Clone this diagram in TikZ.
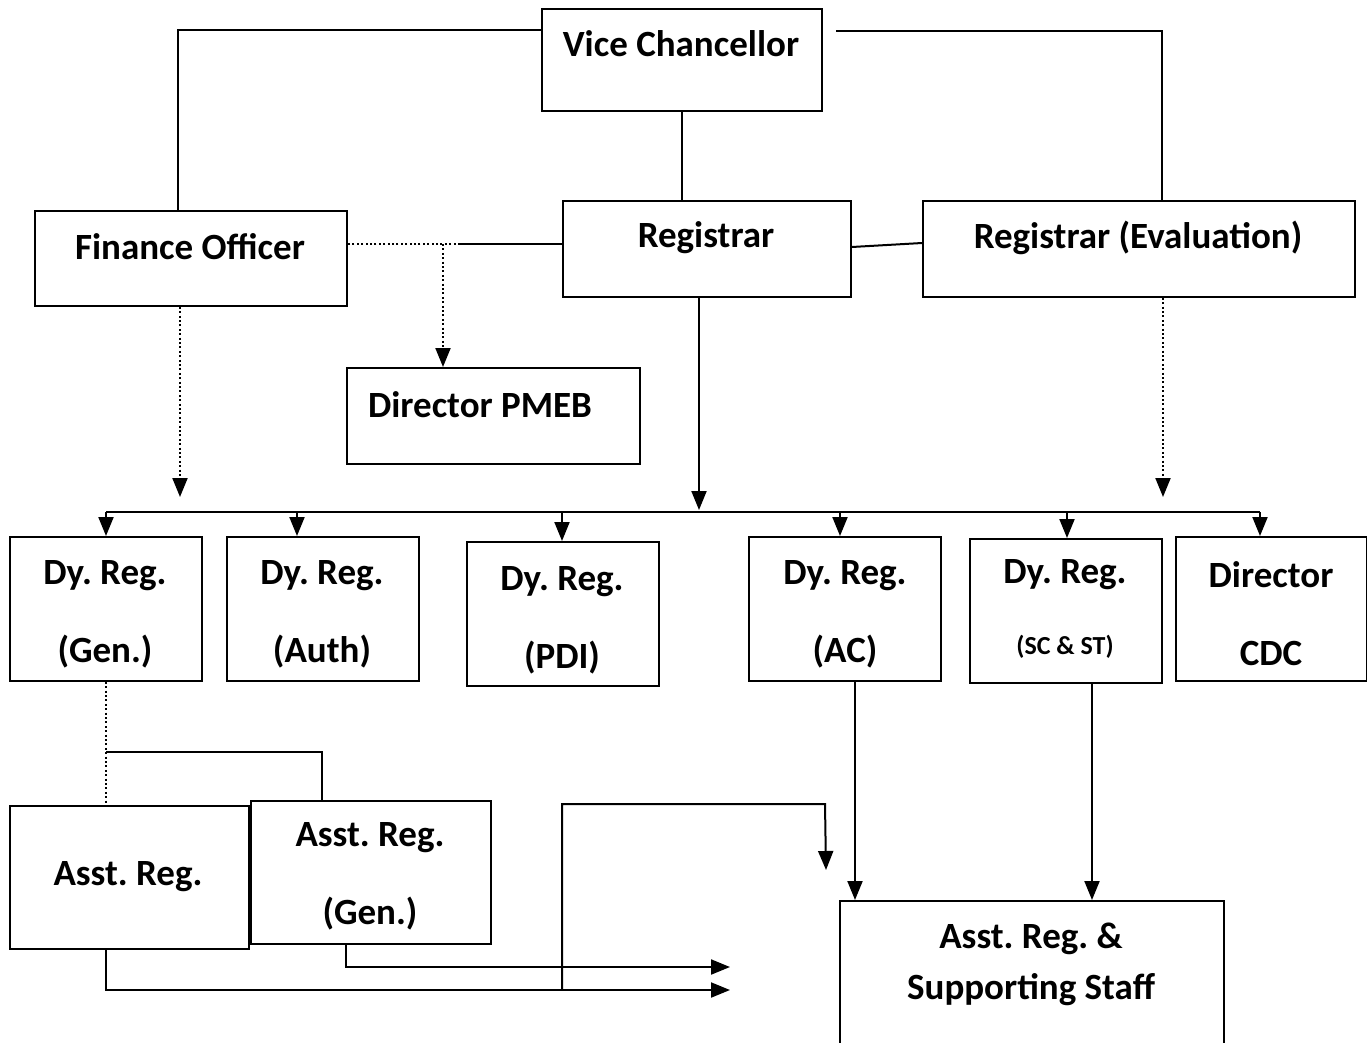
\documentclass[tikz,border=0pt]{standalone}
\usepackage{fontspec}
\setmainfont{Carlito}
\usetikzlibrary{arrows.meta}
\begin{document}
\frenchspacing
\begin{tikzpicture}[x=1pt,y=-1pt,
  box/.style={draw, line width=1.8pt, inner sep=0pt, anchor=north west},
  txt/.style={font=\bfseries\fontsize{37}{78}\selectfont, inner sep=0pt, align=center},
  small/.style={font=\bfseries\fontsize{26}{30}\selectfont, inner sep=0pt},
  ln/.style={line width=2pt},
  dot/.style={line width=2pt, dash pattern=on 2pt off 2.4pt},
  arr/.style={-{Triangle[length=19pt,width=15pt]}},
]
\useasboundingbox (0,0) rectangle (1367,1042);
% boxes
\node[box, minimum width=280pt, minimum height=102pt] (vc) at (541,8) {};
\node[box, minimum width=312pt, minimum height=95pt] (fo) at (34,210) {};
\node[box, minimum width=288pt, minimum height=96pt] (reg) at (562,200) {};
\node[box, minimum width=432pt, minimum height=96pt] (re) at (922,200) {};
\node[box, minimum width=293pt, minimum height=96pt] (pmeb) at (346,367) {};
\node[box, minimum width=192pt, minimum height=144pt] (d1) at (9,536) {};
\node[box, minimum width=192pt, minimum height=144pt] (d2) at (226,536) {};
\node[box, minimum width=192pt, minimum height=144pt] (d3) at (466,541) {};
\node[box, minimum width=192pt, minimum height=144pt] (d4) at (748,536) {};
\node[box, minimum width=192pt, minimum height=144pt] (d5) at (969,538) {};
\node[box, minimum width=191pt, minimum height=144pt] (d6) at (1175,536) {};
\node[box, minimum width=239pt, minimum height=143pt] (ar) at (9,805) {};
\node[box, minimum width=240pt, minimum height=143pt] (arg) at (250,800) {};
\node[box, minimum width=384pt, minimum height=170pt] (ss) at (839,900) {};
% texts
\node[txt] (vct) at (681,44) {Vice Chancellor};
\node[txt] (fot) at (190,247) {Finance Officer};
\node[txt] (regt) at (706,238) {Registrar};
\node[txt] (ret) at (1138,238) {Registrar (Evaluation)};
\node[txt] (pmebt) at (480,405) {Director PMEB};
\node[txt] (d1t) at (105,614) {Dy. Reg.\\(Gen.)};
\node[txt] (d2t) at (322,614) {Dy. Reg.\\(Auth)};
\node[txt] (d3t) at (562,620) {Dy. Reg.\\(PDI)};
\node[txt] (d4t) at (845,614) {Dy. Reg.\\(AC)};
\node[txt] (d5t) at (1065,575) {Dy. Reg.};
\node[small] (d5s) at (1065,647) {(SC \& ST)};
\node[txt] (d6t) at (1271,614) {Director\\CDC};
\node[txt] (art) at (128,877) {Asst. Reg.};
\node[txt] (argt) at (370,876) {Asst. Reg.\\(Gen.)};
\node[txt, font=\bfseries\fontsize{37}{51}\selectfont] (sst) at (1031,964) {Asst. Reg. \&\\Supporting Staff};
% coordinates
\coordinate (vcr) at (836,31);
\coordinate (j1) at (443,244);
\coordinate (j2) at (460,244);
\coordinate (busl) at (106,512);
\coordinate (busr) at (1260,512);
\coordinate (j3) at (106,752);
\coordinate (j4) at (562,990);
\coordinate (e1) at (730,990);
\coordinate (e2) at (730,967);
\coordinate (e3) at (826,870);
% connectors
\draw[ln] (vc.west |- 0,30) -- (178,30) -- (fo.north -| 178,0);
\draw[ln] (vcr) -- (1162,31) -- (re.north -| 1162,0);
\draw[ln] (vc.south) -- (reg.north -| vc.south);
\draw[ln] (reg.east |- 0,247) -- (re.west |- 0,243);
\draw[ln] (reg.west |- j2) -- (j2);
\draw[dot] (j2) -- (fo.east |- j2);
\draw[dot, arr] (j1) -- (pmeb.north -| j1);
\draw[dot, arr] (fo.south -| 180,0) -- (180,497);
\draw[ln, arr] (reg.south -| 699,0) -- (699,510);
\draw[dot, arr] (re.south -| 1163,0) -- (1163,497);
\draw[ln] (busl) -- (busr);
\draw[ln, arr] (busl) -- (d1.north -| busl);
\draw[ln, arr] (297,512) -- (d2.north -| 297,0);
\draw[ln, arr] (562,512) -- (d3.north -| 562,0);
\draw[ln, arr] (840,512) -- (d4.north -| 840,0);
\draw[ln, arr] (1067,512) -- (d5.north -| 1067,0);
\draw[ln, arr] (busr) -- (d6.north -| busr);
\draw[dot, line width=1.5pt] (d1.south -| 106,0) -- (ar.north -| 106,0);
\draw[ln] (j3) -- (322,752) -- (arg.north -| 322,0);
\draw[ln, arr] (ar.south -| 106,0) -- (106,990) -- (e1);
\draw[ln, arr] (arg.south -| 346,0) -- (346,967) -- (e2);
\draw[ln, arr] (j4) -- (562,804) -- (825,804) -- (e3);
\draw[ln, arr] (d4.south -| 855,0) -- (ss.north -| 855,0);
\draw[ln, arr] (d5.south -| 1092,0) -- (ss.north -| 1092,0);
\end{tikzpicture}
\end{document}
